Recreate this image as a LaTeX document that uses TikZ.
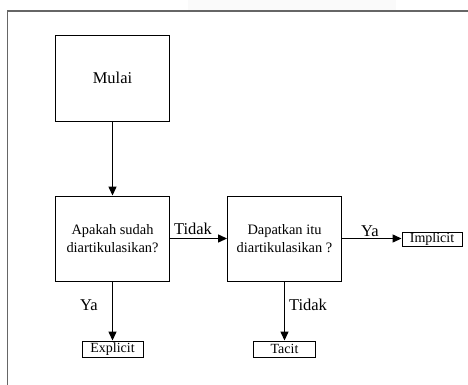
\documentclass[tikz,border=0pt]{standalone}
\usepackage{fontspec}
\setmainfont{Liberation Serif}
\usetikzlibrary{arrows.meta}
\begin{document}
\begin{tikzpicture}[x=1pt,y=-1pt,
  bigbox/.style={draw=black,line width=0.9pt,rectangle,inner sep=0pt,minimum width=114pt,minimum height=85pt,align=center,font=\fontsize{14.4}{18}\selectfont},
  smallbox/.style={draw=black,line width=0.9pt,rectangle,inner sep=0pt,minimum height=15pt,font=\fontsize{14}{16}\selectfont},
  lbl/.style={inner sep=0pt,font=\fontsize{16.5}{18}\selectfont},
  arr/.style={line width=1.3pt,-{Triangle[length=9pt,width=8pt]}}]
\useasboundingbox (0,0) rectangle (468,385);
\fill[black!2] (188,0) rectangle (396,10);
\draw[line width=1.2pt,black!60] (7.5,385) -- (7.5,11) -- (468,11);
\node[bigbox,minimum height=86pt,font=\fontsize{16.5}{18}\selectfont] (mulai) at (112.5,78) {Mulai};
\node[bigbox] (q1) at (112.5,238.5) {Apakah sudah\\diartikulasikan?};
\node[bigbox] (q2) at (284.5,238.5) {Dapatkan itu\\diartikulasikan ?};
\node[smallbox,minimum width=60pt,minimum height=13.5pt] (impl) at (432,239.5) {Implicit};
\node[smallbox,minimum width=61pt,minimum height=16pt] (expl) at (112.5,349) {Explicit};
\node[smallbox,minimum width=62pt,minimum height=16pt] (tacit) at (284.5,349) {Tacit};
\draw[arr] (mulai) -- (q1);
\draw[arr] (q1.east) -- (q2.west);
\draw[arr] (q2.east) -- (q2.east -| impl.west);
\draw[arr] (q1.south) -- (expl.north);
\draw[arr] (q2.south) -- (tacit.north);
\node[lbl] (t1) at (193,229) {Tidak};
\node[lbl] (y1) at (370,231) {Ya};
\node[lbl] (y2) at (89,305) {Ya};
\node[lbl] (t2) at (308,305) {Tidak};
\end{tikzpicture}
\end{document}
